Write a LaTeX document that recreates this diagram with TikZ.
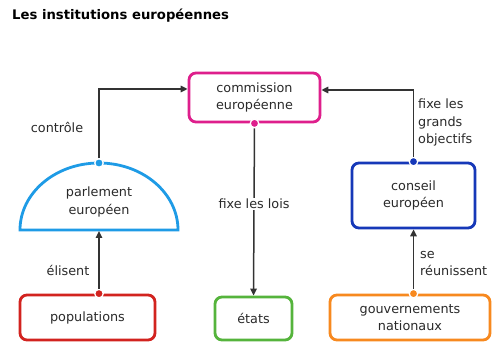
\documentclass[tikz,border=0pt]{standalone}
\usepackage{fontspec}
\setmainfont{DejaVu Sans}
\usetikzlibrary{arrows.meta}
\definecolor{cmag}{HTML}{DE1F8C}
\definecolor{cparl}{HTML}{1E9BE6}
\definecolor{ccons}{HTML}{1638B8}
\definecolor{cpop}{HTML}{D2231F}
\definecolor{cetat}{HTML}{55B43C}
\definecolor{cgouv}{HTML}{F7891F}
\definecolor{cline}{HTML}{333333}
\definecolor{ctext}{HTML}{2A2A2A}
\begin{document}
\begin{tikzpicture}[x=1pt,y=-1pt,
  box/.style={draw, line width=2.8pt, rounded corners=7pt, fill=white, align=center,
    font=\fontsize{12.8}{17.5}\selectfont, text=ctext, inner sep=0pt},
  lbl/.style={font=\fontsize{12.8}{17.5}\selectfont, text=ctext, inner sep=1pt},
  conn/.style={draw=cline, line width=1.5pt, -{Triangle[length=7pt,width=6.5pt]}},
  dot/.style={circle, inner sep=0pt, minimum size=8.5pt, draw=white, line width=1.3pt}]
\useasboundingbox (0,0) rectangle (493,358);
\fill[white] (0,0) rectangle (493,358);
\node[anchor=base west, font=\bfseries\fontsize{13.2}{15}\selectfont, inner sep=0pt] (title) at (12,20) {Les institutions européennes};

\node[box, draw=cmag, minimum width=131pt, minimum height=49pt] (comm) at (254.5,97.5) {commission\\européenne};
\node[box, draw=ccons, minimum width=123pt, minimum height=65pt] (cons) at (413.5,195.5) {conseil\\européen};
\node[box, draw=cpop, minimum width=135pt, minimum height=45pt] (pop) at (87.5,317.5) {populations};
\node[box, draw=cetat, minimum width=77pt, minimum height=43pt] (etat) at (253.5,318.5) {états};
\node[box, draw=cgouv, minimum width=160pt, minimum height=45pt] (gouv) at (410,317.5) {gouvernements\\nationaux};

% parlement (half disc)
\draw[cparl, line width=2.8pt, fill=white] (20,230) arc[start angle=180, end angle=0, x radius=79pt, y radius=67pt] -- cycle;
\node[align=center, font=\fontsize{12.8}{17.5}\selectfont, text=ctext, inner sep=0pt] (parl) at (99,202) {parlement\\européen};
\coordinate (parlbot) at (99,231);

% dots
\node[dot, fill=cparl] (dparl) at (99,163) {};
\node[dot, fill=cmag] (dcomm) at (comm.south) {};
\node[dot, fill=ccons] (dcons) at (cons.north) {};
\node[dot, fill=cpop] (dpop) at (parlbot |- pop.north) {};
\node[dot, fill=cgouv] (dgouv) at (cons.south |- gouv.north) {};

% connectors
\draw[conn] (dparl) |- ([yshift=8.5pt]comm.west);
\draw[conn] (dcons) |- ([yshift=7.5pt]comm.east);
\draw[conn] (dcomm) -- (etat.north) node[pos=0.45, lbl, fill=white] (lois) {fixe les lois};
\draw[conn] (dpop) -- (parlbot);
\draw[conn] (dgouv) -- (cons.south);

% labels
\node[lbl] (lctrl) at (57,127) {contrôle};
\node[lbl, align=left, anchor=north west] (lfix) at (417,98) {fixe les\\grands\\objectifs};
\node[lbl] (lelis) at (68,270) {élisent};
\node[lbl, align=left, anchor=north west] (lreun) at (419,250) {se\\réunissent};
\end{tikzpicture}
\end{document}
